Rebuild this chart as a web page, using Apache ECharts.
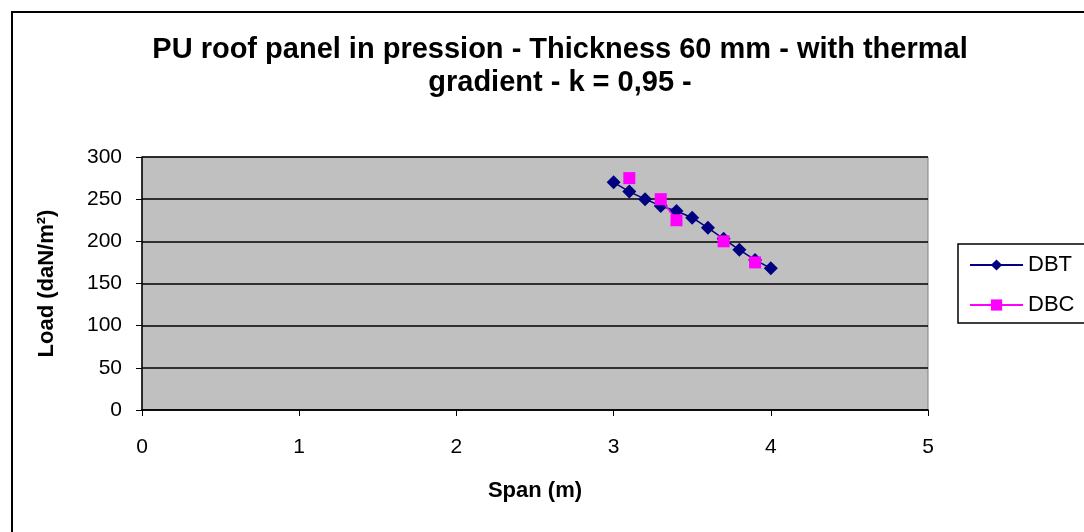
<!DOCTYPE html>
<html>
<head>
  <meta charset="utf-8" />
  <title>PU roof panel</title>
  <style>
    html, body { margin: 0; padding: 0; background: #fff; }
    #chartBox { width: 1084px; height: 532px; }
  </style>
</head>
<body>
  <div id="chartBox"></div>
  <script src="https://cdn.jsdelivr.net/npm/echarts@6/dist/echarts.min.js"></script>
  <script>
    // data
    var dbtSpan = [3.0, 3.1, 3.2, 3.3, 3.4, 3.5, 3.6, 3.7, 3.8, 3.9, 4.0];
    var dbtLoad = [270, 259, 250, 242, 236, 228, 216, 203, 190, 178, 168];
    // null = empty cell, the line is broken there
    var dbcSpan = [3.1, 3.2, 3.3, 3.4, 3.5, 3.7, 3.8, 3.9];
    var dbcLoad = [275, null, 250, 225, null, 200, null, 175];
    var seriesNames = ['DBT', 'DBC'];

    function pairs(xs, ys) {
      var out = [];
      for (var i = 0; i < xs.length; i++) {
        out.push([xs[i], ys[i] == null ? '-' : ys[i]]);
      }
      return out;
    }

    var font = 'Liberation Sans, Arial, sans-serif';
    var myChart = echarts.init(document.getElementById('chartBox'));
    var option = {
      animation: false,
      textStyle: { fontFamily: font },
      graphic: [{
        type: 'rect',
        shape: { x: 12, y: 12, width: 1200, height: 600 },
        style: { fill: 'none', stroke: '#000', lineWidth: 2 },
        z: -10
      }],
      title: {
        text: 'PU roof panel in pression - Thickness 60 mm - with thermal\ngradient - k = 0,95 -',
        left: 555,
        top: 28,
        textAlign: 'center',
        textStyle: { fontSize: 29, fontWeight: 'bold', color: '#000', lineHeight: 33, fontFamily: font }
      },
      legend: {
        left: 958,
        top: 244,
        orient: 'vertical',
        data: seriesNames,
        backgroundColor: '#fff',
        borderColor: '#000',
        borderWidth: 1.5,
        borderRadius: 0,
        padding: [10, 40, 7, 11],
        itemGap: 18,
        itemWidth: 53,
        itemHeight: 14,
        textStyle: { fontSize: 22, color: '#000', fontFamily: font }
      },
      grid: {
        left: 142,
        right: 156,
        top: 157,
        bottom: 122,
        show: true,
        backgroundColor: '#c0c0c0',
        borderColor: '#808080',
        borderWidth: 1
      },
      xAxis: {
        type: 'value',
        min: 0,
        max: 5,
        interval: 1,
        name: 'Span (m)',
        nameLocation: 'middle',
        nameGap: 70,
        nameTextStyle: { fontSize: 22, fontWeight: 'bold', color: '#000' },
        axisLine: { show: true, lineStyle: { color: '#000', width: 1.5 } },
        axisTick: { show: true, inside: false, length: 6, lineStyle: { color: '#000' } },
        axisLabel: { fontSize: 21, color: '#000', margin: 27 },
        splitLine: { show: false }
      },
      yAxis: {
        type: 'value',
        min: 0,
        max: 300,
        interval: 50,
        name: 'Load (daN/m²)',
        nameLocation: 'middle',
        nameGap: 84,
        nameRotate: 90,
        nameTextStyle: { fontSize: 22, fontWeight: 'bold', color: '#000' },
        axisLine: { show: true, lineStyle: { color: '#000', width: 1.5 } },
        axisTick: { show: true, inside: false, length: 6, lineStyle: { color: '#000' } },
        axisLabel: { fontSize: 21, color: '#000', margin: 20 },
        splitLine: { show: true, lineStyle: { color: '#000', width: 1.5 } }
      },
      series: [
        {
          name: 'DBT',
          type: 'line',
          data: pairs(dbtSpan, dbtLoad),
          symbol: 'diamond',
          symbolSize: 14,
          color: '#000080',
          lineStyle: { color: '#000080', width: 1.5 },
          itemStyle: { color: '#000080' },
          z: 2
        },
        {
          name: 'DBC',
          type: 'line',
          data: pairs(dbcSpan, dbcLoad),
          connectNulls: false,
          symbol: 'rect',
          symbolSize: 12,
          color: '#ff00ff',
          lineStyle: { color: '#ff00ff', width: 1.5 },
          itemStyle: { color: '#ff00ff' },
          z: 3
        }
      ]
    };
    myChart.setOption(option);
  </script>
</body>
</html>
